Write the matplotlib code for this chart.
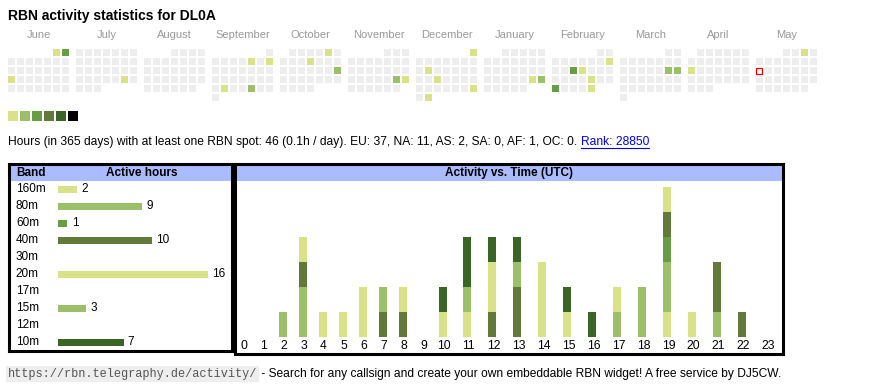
import datetime as dt
import numpy as np
import matplotlib
matplotlib.use('Agg')
import matplotlib.pyplot as plt
from matplotlib.patches import Rectangle

plt.rcParams['font.family'] = ['Liberation Sans', 'DejaVu Sans']

# ---- data ----
callsign = 'DL0A'
months = [(2024, 6), (2024, 7), (2024, 8), (2024, 9), (2024, 10), (2024, 11),
          (2024, 12), (2025, 1), (2025, 2), (2025, 3), (2025, 4), (2025, 5)]
month_names = ['June', 'July', 'August', 'September', 'October', 'November',
               'December', 'January', 'February', 'March', 'April', 'May']
active_days = ['2024-06-01', '2024-06-02', '2024-06-17', '2024-07-27',
               '2024-09-06', '2024-09-08', '2024-09-24', '2024-09-27',
               '2024-10-05', '2024-10-10', '2024-10-20',
               '2024-11-23', '2024-11-24',
               '2024-12-01', '2024-12-10', '2024-12-18', '2024-12-29', '2024-12-31',
               '2025-01-25', '2025-01-26',
               '2025-02-09', '2025-02-12', '2025-02-13', '2025-02-21', '2025-02-24', '2025-02-28',
               '2025-03-15', '2025-03-16', '2025-04-14', '2025-05-03']
active_levels = [1, 3, 1, 1,
                 1, 1, 1, 2,
                 1, 1, 2,
                 2, 1,
                 1, 1, 1, 1, 1,
                 1, 2,
                 1, 3, 1, 1, 3, 1,
                 2, 2, 1, 1]
today = '2025-05-12'

bands = ['160m', '80m', '60m', '40m', '30m', '20m', '17m', '15m', '12m', '10m']
band_color_idx = [0, 1, 2, 3, 4, 0, 1, 1, 2, 4]
# active hours per band, per UTC hour 0..23
hours_by_band = {
    '160m': [0,0,0,0,0,0,0,0,0,0,0,0,0,0,0,0,0,0,0,1,1,0,0,0],
    '80m':  [0,0,1,2,0,0,0,0,0,0,0,0,0,0,0,0,0,1,2,2,0,1,0,0],
    '60m':  [0,0,0,0,0,0,0,0,0,0,0,0,0,0,0,0,0,0,0,1,0,0,0,0],
    '40m':  [0,0,0,1,0,0,0,1,1,0,0,0,1,2,0,0,0,0,0,1,0,2,1,0],
    '30m':  [0]*24,
    '20m':  [0,0,0,1,1,1,2,0,1,0,1,1,2,0,3,1,0,1,0,1,0,0,0,0],
    '17m':  [0]*24,
    '15m':  [0,0,0,0,0,0,0,1,0,0,0,1,0,1,0,0,0,0,0,0,0,0,0,0],
    '12m':  [0]*24,
    '10m':  [0,0,0,0,0,0,0,0,0,0,1,2,1,1,0,1,1,0,0,0,0,0,0,0],
}
stats_text = ('Hours (in 365 days) with at least one RBN spot: 46 (0.1h / day). '
              'EU: 37, NA: 11, AS: 2, SA: 0, AF: 1, OC: 0. ')
rank_text = 'Rank: 28850'
footer_url = 'https://rbn.telegraphy.de/activity/'
footer_text = ' - Search for any callsign and create your own embeddable RBN widget! A free service by DJ5CW.'

level_colors = ['#d9e289', '#9cc069', '#669d45', '#637939', '#3b6427', '#000000']
header_blue = '#aabbff'
cell_gray = '#eeeeee'

W, H = 870, 390
fig = plt.figure(figsize=(W / 100, H / 100), dpi=100)
bg = fig.add_axes([0, 0, 1, 1])
bg.set_xlim(0, W)
bg.set_ylim(H, 0)
bg.axis('off')


def px_axes(x0, y0, x1, y1):
    return fig.add_axes([x0 / W, 1 - y1 / H, (x1 - x0) / W, (y1 - y0) / H])


bg.text(8, 16, 'RBN activity statistics for ' + callsign, fontsize=10,
        fontweight='bold', va='center', ha='left')

# ---- calendar ----
level_of = {d: l for d, l in zip(active_days, active_levels)}
cell, pitch, block = 7, 9, 68
for m, ((yr, mo), name) in enumerate(zip(months, month_names)):
    bx = 8 + m * block
    bg.text(bx + 30.5, 35, name, fontsize=8, color='#999999', ha='center', va='center')
    first = dt.date(yr, mo, 1)
    day = first
    while day.month == mo:
        row = (day.day - 1 + first.weekday()) // 7
        x = bx + day.weekday() * pitch
        y = 49 + row * pitch
        key = day.isoformat()
        if key == today:
            bg.add_patch(Rectangle((x + 0.5, y + 0.5), cell - 1, cell - 1, facecolor='white',
                                   edgecolor='#ee0000', linewidth=0.9))
        else:
            c = level_colors[level_of[key] - 1] if key in level_of else cell_gray
            bg.add_patch(Rectangle((x, y), cell, cell, facecolor=c, edgecolor='none'))
        day += dt.timedelta(days=1)

for i, c in enumerate(level_colors):
    bg.add_patch(Rectangle((8 + 12 * i, 111), 10, 10, facecolor=c, edgecolor='none'))

# ---- stats line ----
fs = 8.65
t1 = bg.text(8, 142, stats_text, fontsize=fs, va='center', ha='left')
fig.canvas.draw()
r = fig.canvas.get_renderer()
e1 = t1.get_window_extent(r)
t2 = bg.text(e1.x1, 142, rank_text, fontsize=fs, va='center', ha='left', color='#0000ee')
e2 = t2.get_window_extent(r)
bg.plot([e2.x0, e2.x1], [147.5, 147.5], color='#0000ee', lw=0.8)

# ---- band table ----
spine_w = 2.2
ax1 = px_axes(9, 164, 232, 351)
ax1.set_xlim(-5.227, 18.56)
ax1.set_ylim(9.51, -1.49)
ax1.axhspan(-1.49, -0.49, color=header_blue, lw=0)
totals = [sum(hours_by_band[b]) for b in bands]
ax1.barh(range(len(bands)), totals, height=7 / 17,
         color=[level_colors[k] for k in band_color_idx])
ytr = ax1.get_yaxis_transform()
for i, (b, t) in enumerate(zip(bands, totals)):
    ax1.text(0.031, i, b, transform=ytr, fontsize=8.5, va='center', ha='left')
    if t > 0:
        ax1.text(t + 0.45, i, str(t), fontsize=8.5, va='center', ha='left')
ax1.text(0.031, -0.99, 'Band', transform=ytr, fontsize=8.5, fontweight='bold', va='center')
ax1.text(0.596, -0.99, 'Active hours', transform=ytr, fontsize=8.5, fontweight='bold',
         va='center', ha='center')
ax1.set_xticks([])
ax1.set_yticks([])
for s in ax1.spines.values():
    s.set_linewidth(spine_w)

# ---- activity vs time (html table columns: one-digit hours narrower) ----
ax2 = px_axes(234.5, 164, 783, 354)
ax2.set_xlim(234.5, 783)
ax2.set_ylim(-0.68, 6.92)
ax2.axhspan(6.24, 6.92, color=header_blue, lw=0)
hours = np.arange(24)
col_x = np.where(hours <= 10, 243 + 20 * hours, 467 + 25 * (hours - 11))
bottom = np.zeros(24)
for b, k in zip(bands, band_color_idx):
    v = np.array(hours_by_band[b])
    if v.sum() == 0:
        continue
    ax2.bar(col_x, v, bottom=bottom, width=8, color=level_colors[k], lw=0)
    bottom += v
for h, x in zip(hours, col_x):
    ax2.text(x + (1.5 if h > 10 else 0.5), -0.35, str(h), fontsize=8.7,
             ha='center', va='center')
ax2.text(0.5, 6.58, 'Activity vs. Time (UTC)', transform=ax2.get_yaxis_transform(),
         fontsize=8.5, fontweight='bold', ha='center', va='center')
ax2.set_xticks([])
ax2.set_yticks([])
for s in ax2.spines.values():
    s.set_linewidth(spine_w)

# ---- footer ----
tf = bg.text(8, 374, footer_url, fontsize=8.6, family=['Liberation Mono', 'DejaVu Sans Mono'],
             color='#555555', va='center', ha='left',
             bbox=dict(facecolor='#eeeeee', edgecolor='none', pad=1.5))
ef = tf.get_window_extent(r)
bg.text(ef.x1 + 1, 374, footer_text, fontsize=fs, va='center', ha='left')

fig.savefig('out.png', dpi=100)
